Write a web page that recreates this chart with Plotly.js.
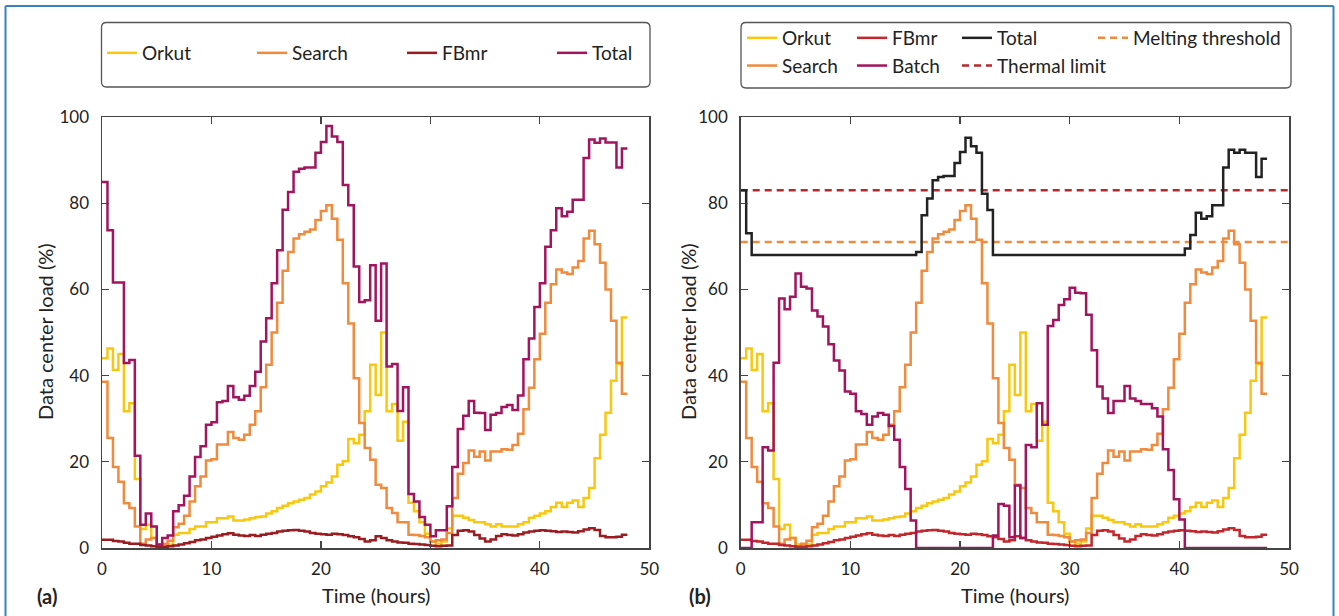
<!DOCTYPE html>
<html>
<head>
<meta charset="utf-8">
<script src="https://cdn.plot.ly/plotly-3.0.1.min.js"></script>
<style>
  html, body { margin: 0; padding: 0; background: #fff; }
  #chart { width: 1339px; height: 616px; }
</style>
</head>
<body>
<div id="chart"></div>
<script>
// Time grid: half-hour steps, 0 .. 48 h
const hours = [];
for (let i = 0; i <= 96; i++) hours.push(i / 2);

// Values per half hour (0, 0.5, ... 47.5)
const orkut = [
  44.0,46.3,41.3,45.0,31.7,33.6,16.0,4.4,5.4,2.3,0.8,0.8,0.8,3.1,3.5,3.5,4.4,5.0,5.0,6.0,6.0,6.9,6.9,7.3,6.4,6.4,
  6.6,6.9,7.2,7.3,8.0,8.5,9.3,9.8,10.4,10.8,11.2,11.6,12.4,13.1,14.3,15.2,16.6,19.3,20.1,25.3,24.3,26.3,31.7,42.5,35.5,50.0,
  31.7,33.4,24.9,29.3,10.5,8.5,6.0,3.3,1.5,1.0,1.5,4.5,7.5,7.5,7.0,6.5,6.0,6.0,5.5,5.0,5.5,5.0,5.0,5.0,5.5,6.0,
  7.0,7.5,8.0,8.5,9.5,10.5,9.5,10.5,11.0,9.5,11.6,13.9,20.8,26.3,31.4,38.8,42.7,53.5
];
const search = [
  38.6,25.5,18.8,15.4,10.4,9.3,5.0,1.0,2.0,2.3,0.3,1.0,1.7,4.8,5.6,7.5,10.8,14.3,16.6,20.3,20.6,24.0,24.0,26.9,25.5,25.1,
  26.3,28.6,31.7,37.3,42.5,50.0,56.9,64.3,68.7,71.8,72.8,73.4,73.9,76.1,78.2,79.5,76.4,71.5,61.4,52.1,39.4,29.0,23.2,20.5,14.7,13.9,
  9.3,8.1,6.0,6.0,3.1,3.0,2.8,2.5,1.5,1.8,2.0,3.5,11.6,17.2,19.7,22.6,21.2,22.4,20.3,22.4,22.4,22.9,22.8,23.9,26.5,32.2,
  37.2,43.8,49.7,56.9,61.2,64.6,63.9,63.6,65.1,66.6,71.8,73.6,70.5,66.2,60.0,52.7,43.0,35.8
];
const fbmr = [
  1.9,1.9,1.6,1.5,1.2,1.0,1.0,0.7,0.6,0.4,0.3,0.3,0.4,0.6,0.8,1.1,1.4,1.8,2.0,2.3,2.6,2.9,3.2,3.4,3.1,2.9,
  2.8,3.0,2.8,3.1,3.3,3.5,3.8,4.0,4.1,4.2,4.0,3.8,3.5,3.3,3.2,3.1,3.3,3.2,3.0,2.7,2.5,2.1,1.5,1.8,2.7,2.3,
  1.8,1.5,1.3,1.2,1.0,0.9,0.8,0.7,0.5,0.4,0.5,0.6,3.0,4.0,4.1,3.8,3.0,2.2,1.5,2.0,2.8,3.2,3.0,2.9,3.2,3.6,
  3.8,4.0,4.1,4.0,3.9,3.7,3.8,3.7,3.6,3.9,4.3,4.6,4.2,2.8,2.5,2.5,2.6,3.1
];
const totalA = [
  84.9,73.7,61.6,61.6,42.9,43.6,21.4,5.4,8.0,5.0,0.8,2.3,2.9,8.5,9.9,12.1,16.6,21.1,23.6,28.6,29.2,33.8,34.1,37.6,35.0,34.4,
  35.3,37.6,40.9,47.9,53.3,61.4,69.1,78.5,82.6,87.3,88.0,88.3,88.3,91.7,94.2,97.9,95.5,94.2,84.2,79.5,65.3,57.1,57.5,65.6,52.7,66.0,
  42.1,42.7,31.8,37.3,12.5,10.8,7.2,5.4,2.7,4.1,4.1,9.7,18.8,27.6,30.7,34.1,31.4,31.3,27.4,30.9,31.3,32.7,33.2,32.0,35.4,43.8,
  48.6,55.9,61.4,69.9,73.7,78.8,77.0,78.0,80.8,80.8,90.5,94.8,94.0,95.0,94.1,94.1,88.3,92.7
];
const batch = [
  0,0,6.0,6.0,23.4,22.6,43.0,57.9,55.4,58.3,63.7,60.6,60.2,55.1,53.7,51.4,47.3,43.5,41.2,36.3,35.8,31.7,31.1,28.6,30.5,31.3,
  30.9,28.3,25.1,18.8,13.7,6.4,0,0,0,0,0,0,0,0,0,0,0,0,0,0,2.9,10.2,9.8,2.5,14.5,2.3,
  23.9,23.4,33.6,28.6,51.5,52.9,56.4,57.7,60.4,59.2,59.1,54.1,45.9,37.5,34.7,31.3,34.1,34.1,37.6,34.7,34.1,33.4,33.4,32.4,30.5,22.9,
  18.1,11.3,6.6,0,0,0,0,0,0,0,0,0,0,0,0,0,0,0
];
const totalB = [
  83,73,68,68,68,68,68,68,68,68,68,68,68,68,68,68,68,68,68,68,68,68,68,68,68,68,
  68,68,68,68,68,68,68.7,77.2,81.1,85.3,86.1,86.3,86.3,89.3,91.9,95.2,93.2,91.7,82.2,78.4,68,68,68,68,68,68,
  68,68,68,68,68,68,68,68,68,68,68,68,68,68,68,68,68,68,68,68,68,68,68,68,68,68,
  68,68,68,69.5,72.6,77.8,76.4,77.0,79.5,79.5,88.3,92.4,91.7,92.4,91.7,91.7,86.1,90.3
];
const thermalLimit = 83;
const meltingThreshold = 71;
const thresholdSpan = [0, 50];

const xTicks = [0, 10, 20, 30, 40, 50];
const yTicks = [0, 20, 40, 60, 80, 100];
const xTitle = 'Time (hours)';
const yTitle = 'Data center load (%)';
const panelLabels = ['(a)', '(b)'];

const C = {
  orkut: '#F9C80E', search: '#F08A3C', fbmrA: '#9B1C20', fbmrB: '#C1272D',
  totalA: '#A3145E', batch: '#A3145E', totalB: '#222222',
  thermal: '#B5282E', melting: '#F08A3C', frame: '#3D80BF', axis: '#444444', text: '#222222'
};
const FONT = "Lato, 'Open Sans', 'DejaVu Sans', sans-serif";

const W = 1339, H = 616;
const M = { l: 102, r: 50, t: 117, b: 68, autoexpand: false };
const PW = W - M.l - M.r, PH = H - M.t - M.b;
const px = x => (x - M.l) / PW;
const py = y => (H - M.b - y) / PH;
const cx = x => x / W;
const cy = y => 1 - y / H;

const ext = a => a.concat([a[a.length - 1]]);

function step(name, y, color, xa, ya, legend, extra) {
  return Object.assign({
    type: 'scatter', mode: 'lines', name: name, x: hours, y: ext(y),
    xaxis: xa, yaxis: ya, legend: legend,
    line: { shape: 'hv', color: color, width: 2.5 },
    hoverinfo: 'x+y+name'
  }, extra || {});
}

const traces = [
  step('Orkut', orkut, C.orkut, 'x', 'y', 'legend'),
  step('Search', search, C.search, 'x', 'y', 'legend2'),
  step('FBmr', fbmr, C.fbmrA, 'x', 'y', 'legend3'),
  step('Total', totalA, C.totalA, 'x', 'y', 'legend4'),

  step('Orkut', orkut, C.orkut, 'x2', 'y2', 'legend5', { legendrank: 1 }),
  step('Search', search, C.search, 'x2', 'y2', 'legend5', { legendrank: 2 }),
  step('FBmr', fbmr, C.fbmrB, 'x2', 'y2', 'legend6', { legendrank: 1 }),
  step('Batch', batch, C.batch, 'x2', 'y2', 'legend6', { legendrank: 2 }),
  {
    type: 'scatter', mode: 'lines', name: 'Thermal limit', x: thresholdSpan, y: [thermalLimit, thermalLimit],
    xaxis: 'x2', yaxis: 'y2', legend: 'legend7', legendrank: 2,
    line: { color: C.thermal, width: 2.5, dash: '7px,5px' }
  },
  {
    type: 'scatter', mode: 'lines', name: 'Melting threshold', x: thresholdSpan, y: [meltingThreshold, meltingThreshold],
    xaxis: 'x2', yaxis: 'y2', legend: 'legend8',
    line: { color: C.melting, width: 2.5, dash: '7px,5px' }
  },
  step('Total', totalB, C.totalB, 'x2', 'y2', 'legend7', { legendrank: 1 })
];

function axisX(domain, anchor) {
  return {
    domain: domain, anchor: anchor, range: [0, 50], tickvals: xTicks, automargin: false,
    showline: true, mirror: 'ticks', linecolor: C.axis, linewidth: 1.5,
    ticks: 'inside', ticklen: 7, tickwidth: 1.3, tickcolor: C.axis,
    showgrid: false, zeroline: false, ticklabelstandoff: 5,
    tickfont: { family: FONT, size: 17, color: C.text }
  };
}
function axisY(anchor) {
  return {
    domain: [0, 1], anchor: anchor, range: [0, 100], tickvals: yTicks, automargin: false,
    showline: true, mirror: 'ticks', linecolor: C.axis, linewidth: 1.5,
    ticks: 'inside', ticklen: 7, tickwidth: 1.3, tickcolor: C.axis,
    showgrid: false, zeroline: false, ticklabelstandoff: 8,
    tickfont: { family: FONT, size: 17, color: C.text }
  };
}

function legendAt(xPix, yPix) {
  return {
    xref: 'container', yref: 'container', x: cx(xPix), y: cy(yPix),
    xanchor: 'left', yanchor: 'middle', orientation: 'v',
    bgcolor: 'rgba(0,0,0,0)', borderwidth: 0,
    font: { family: FONT, size: 19, color: C.text }, traceorder: 'normal'
  };
}

function roundRect(x0, y0, x1, y1, r) {
  const rx = r / PW, ry = r / PH;
  const X0 = px(x0), X1 = px(x1), Y0 = py(y0), Y1 = py(y1);
  return `M${X0 + rx},${Y0} L${X1 - rx},${Y0} Q${X1},${Y0} ${X1},${Y0 - ry} ` +
         `L${X1},${Y1 + ry} Q${X1},${Y1} ${X1 - rx},${Y1} L${X0 + rx},${Y1} ` +
         `Q${X0},${Y1} ${X0},${Y1 + ry} L${X0},${Y0 - ry} Q${X0},${Y0} ${X0 + rx},${Y0} Z`;
}

const shapes = [
  { type: 'path', xref: 'paper', yref: 'paper', path: roundRect(101.5, 22.5, 650, 87, 5),
    line: { color: '#555', width: 1.3 }, fillcolor: 'rgba(0,0,0,0)' },
  { type: 'path', xref: 'paper', yref: 'paper', path: roundRect(741, 22.5, 1291, 88, 5),
    line: { color: '#555', width: 1.3 }, fillcolor: 'rgba(0,0,0,0)' },
  { type: 'line', xref: 'paper', yref: 'paper', x0: px(5.5), x1: px(5.5), y0: py(6), y1: py(620),
    line: { color: C.frame, width: 2 } },
  { type: 'line', xref: 'paper', yref: 'paper', x0: px(5.5), x1: px(1333.5), y0: py(6), y1: py(6),
    line: { color: C.frame, width: 2 } },
  { type: 'line', xref: 'paper', yref: 'paper', x0: px(1333.5), x1: px(1333.5), y0: py(6), y1: py(620),
    line: { color: C.frame, width: 2 } }
];

function label(text, xPix, yPix, size, angle) {
  return { text: text, xref: 'paper', yref: 'paper', x: px(xPix), y: py(yPix), showarrow: false,
    xanchor: 'center', yanchor: 'middle', textangle: angle || 0,
    font: { family: FONT, size: size, color: C.text } };
}

const annotations = [
  label('<b>' + panelLabels[0] + '</b>', 47, 596, 20),
  label('<b>' + panelLabels[1] + '</b>', 700, 596, 20),
  label(xTitle, 376, 595, 20),
  label(xTitle, 1015, 595, 20),
  label(yTitle, 45, 332, 20, -90),
  label(yTitle, 688, 332, 20, -90)
];

const layout = {
  width: W, height: H, margin: M,
  paper_bgcolor: '#fff', plot_bgcolor: '#fff',
  font: { family: FONT, color: C.text },
  showlegend: true,
  xaxis: axisX([0, px(649.3)], 'y'),
  yaxis: axisY('x'),
  xaxis2: axisX([px(740.7), 1], 'y2'),
  yaxis2: axisY('x2'),
  legend: legendAt(102, 53),
  legend2: legendAt(252, 53),
  legend3: legendAt(402, 53),
  legend4: legendAt(552, 53),
  legend5: legendAt(742, 52),
  legend6: legendAt(852, 52),
  legend7: legendAt(957, 52),
  legend8: legendAt(1093, 38),
  shapes: shapes,
  annotations: annotations
};

Plotly.newPlot('chart', traces, layout, { displayModeBar: false, staticPlot: true });
</script>
</body>
</html>
